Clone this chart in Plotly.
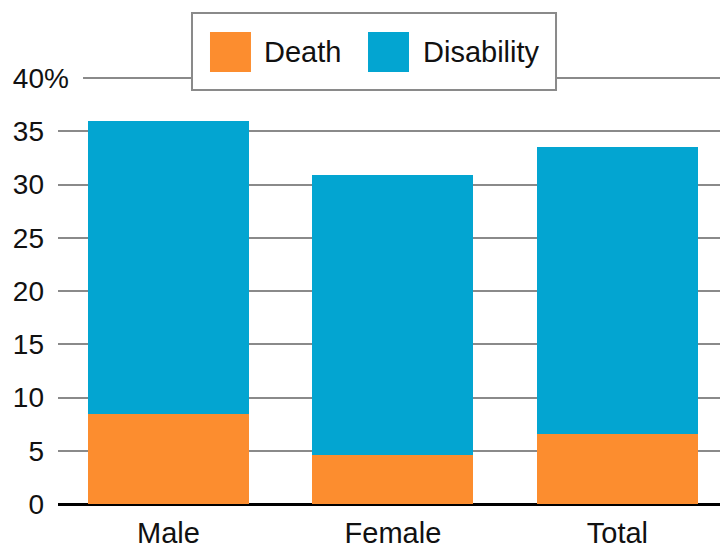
import plotly.graph_objects as go

categories = ["Male", "Female", "Total"]
death = [8.5, 4.6, 6.6]
disability_total = [36.0, 30.9, 33.5]
disability = [round(t - d, 2) for t, d in zip(disability_total, death)]
series_names = ["Death", "Disability"]
series_colors = ["#FC8D2F", "#03A5D1"]
tick_vals = [0, 5, 10, 15, 20, 25, 30, 35, 40]
tick_text = ["0", "5", "10", "15", "20", "25", "30", "35", "40"]
unit_suffix = "%"

FONT = "Liberation Sans, Arial, sans-serif"

fig = go.Figure()
for name, vals, col in zip(series_names, [death, disability], series_colors):
    fig.add_trace(go.Bar(x=categories, y=vals, name=name, marker_color=col,
                         marker_line_width=0, width=0.717, showlegend=False))

fig.update_layout(
    barmode="stack",
    width=720, height=548,
    margin=dict(l=58, r=0, t=76, b=44),
    paper_bgcolor="white", plot_bgcolor="white",
    font=dict(family=FONT, size=29, color="#111"),
    xaxis=dict(range=[-0.492, 2.457], showgrid=False, showline=False,
               automargin=False, ticks="", tickfont=dict(size=29),
               ticklabelstandoff=9),
    yaxis=dict(range=[0, 40.2], tickvals=tick_vals, ticktext=tick_text,
               automargin=False,
               showgrid=True, gridcolor="#8a8a8a", gridwidth=2,
               zeroline=True, zerolinecolor="#000", zerolinewidth=3,
               showline=False, ticks="", tickfont=dict(size=28),
               ticklabelstandoff=13),
)

# "%" suffix hanging after the top tick label
fig.add_annotation(xref="paper", yref="y", x=-0.024, y=tick_vals[-1],
                   text=unit_suffix, showarrow=False, xanchor="left",
                   yanchor="middle",
                   font=dict(size=28, family=FONT, color="#111"))
# mask start of the top gridline (label is wider)
fig.add_shape(type="rect", xref="paper", yref="y", x0=-0.01, x1=0.0378,
              y0=39.75, y1=40.25, fillcolor="white", line_width=0, layer="above")

# custom legend
fig.add_shape(type="rect", xref="paper", yref="paper", x0=0.2024, x1=0.7523,
              y0=0.9673, y1=1.1472, fillcolor="white",
              line=dict(color="#8a8a8a", width=2), layer="above")
sw = [(0.2296, 0.2915, 0.3082), (0.4683, 0.5302, 0.5483)]
for (a, b, t), name, col in zip(sw, series_names, series_colors):
    fig.add_shape(type="rect", xref="paper", yref="paper", x0=a, x1=b,
                  y0=1.0093, y1=1.1028, fillcolor=col, line_width=0, layer="above")
    fig.add_annotation(xref="paper", yref="paper", x=t, y=1.0561, text=name,
                       showarrow=False, xanchor="left", yanchor="middle",
                       font=dict(size=29, family=FONT, color="#111"))

fig.write_html("out.html")
